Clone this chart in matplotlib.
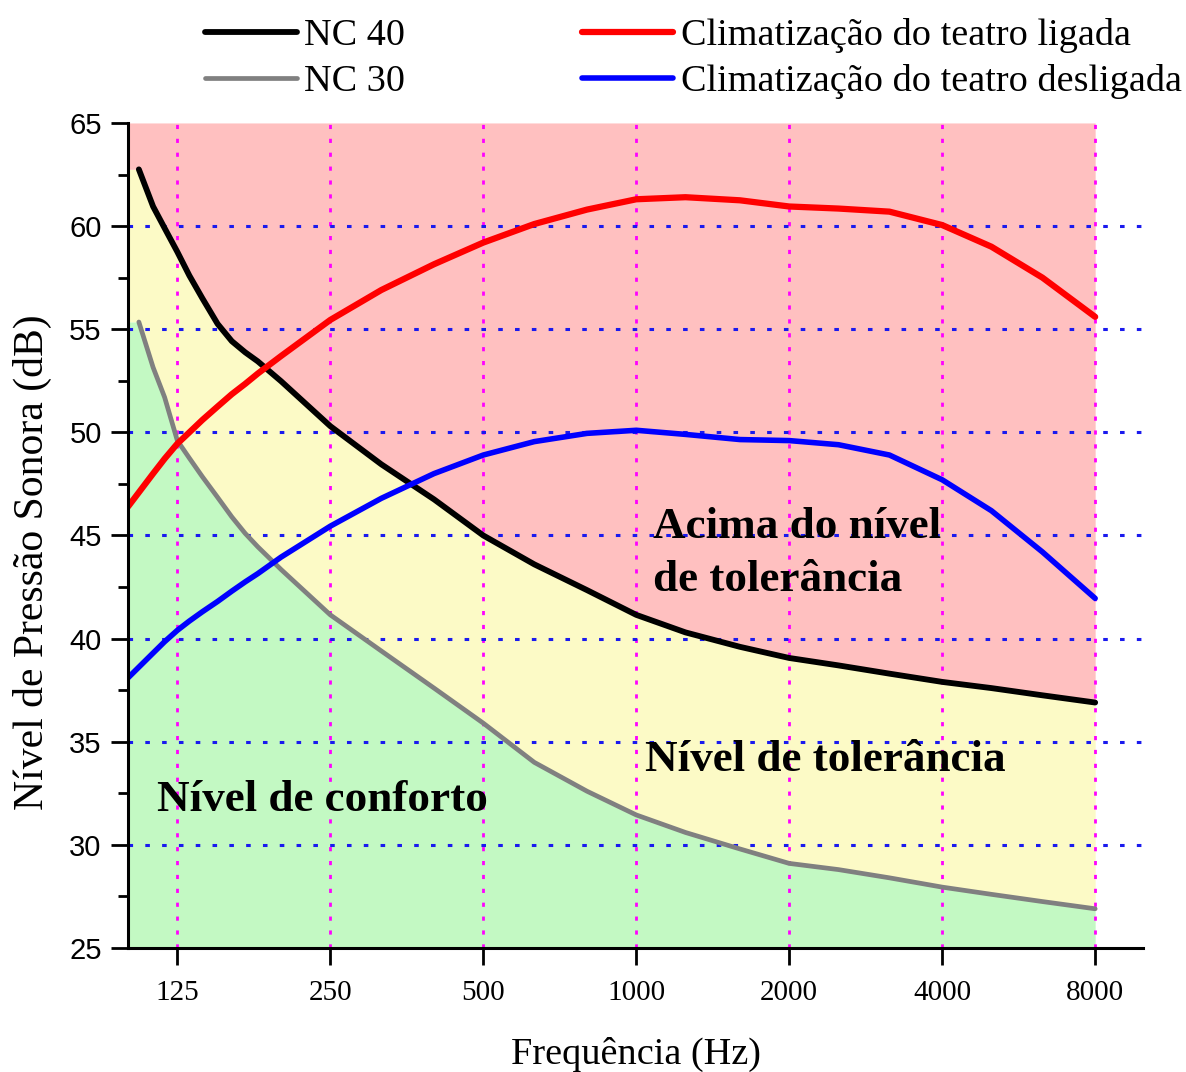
import numpy as np
from matplotlib import pyplot as plt
from matplotlib.ticker import MultipleLocator, NullLocator

# reading points (Hz): denser at the low end where the curves bend most
freqs = [112, 118, 125, 132, 140, 150, 160, 170, 180, 200, 250, 315, 400, 500, 630, 800,
         1000, 1250, 1600, 2000, 2500, 3150, 4000, 5000, 6300, 8000]
nc_start = 105    # NC curves start a bit left of 125 Hz
meas_start = 100  # measured curves start at the left edge

nc40 = [62.75, 60.95, 59.9, 58.75, 57.6, 56.5, 55.26, 54.42, 53.88, 53.44, 52.48, 50.3,
        48.45, 46.75, 45.0, 43.6, 42.35, 41.15, 40.3, 39.6, 39.06, 38.7, 38.3, 37.9,
        37.6, 37.25, 36.9]
nc30 = [55.35, 53.15, 51.7, 49.6, 48.75, 47.85, 46.85, 45.9, 45.1, 44.45, 43.35, 41.15,
        39.4, 37.6, 35.9, 34.0, 32.6, 31.45, 30.6, 29.8, 29.1, 28.8, 28.4, 27.95,
        27.6, 27.25, 26.9]
ligada = [46.4, 48.0, 48.72, 49.45, 50.0, 50.6, 51.25, 51.85, 52.35, 52.85, 53.7, 55.45,
          56.9, 58.15, 59.2, 60.1, 60.8, 61.3, 61.4, 61.25, 60.95, 60.85, 60.7, 60.05,
          59.0, 57.5, 55.6]
desligada = [38.1, 39.3, 39.85, 40.4, 40.85, 41.3, 41.8, 42.3, 42.75, 43.15, 43.95, 45.45,
             46.8, 48.0, 48.9, 49.55, 49.95, 50.1, 49.9, 49.65, 49.6, 49.4, 48.9, 47.7,
             46.2, 44.2, 41.95]

band_ticks = [125, 250, 500, 1000, 2000, 4000, 8000]
y_min, y_max = 25, 65

SERIF = 'Liberation Serif'
SANS = 'Liberation Sans'

x_nc = [nc_start] + freqs
x_meas = [meas_start] + freqs
# fill zones reach the left edge with the first NC value held flat
x_fill = [meas_start] + x_nc
nc40_fill = [nc40[0]] + nc40
nc30_fill = [nc30[0]] + nc30

fig = plt.figure(figsize=(11.86, 10.72), dpi=100)
ax = fig.add_axes([0.108, 0.1157, 0.856, 0.7696])
ax.set_xscale('log')
ax.set_xlim(100, 9950)
ax.set_ylim(y_min, y_max)

ax.fill_between(x_fill, nc40_fill, y_max, color='#ffc0c0', lw=0, zorder=1)
ax.fill_between(x_fill, nc30_fill, nc40_fill, color='#fcfac6', lw=0, zorder=1)
ax.fill_between(x_fill, y_min, nc30_fill, color='#c3f9c3', lw=0, zorder=1)

for f in band_ticks:
    ax.axvline(f, color='#ff00ff', ls=(0, (1.5, 3.5)), lw=2.0, zorder=2)
for v in range(30, 61, 5):
    ax.axhline(v, color='#1a1aee', ls=(0, (1.5, 4)), lw=2.2, zorder=2)

line_kw = dict(zorder=4, solid_capstyle='round', solid_joinstyle='round')
ax.plot(x_nc, nc40, color='black', lw=4.2, label='NC 40', **line_kw)
ax.plot(x_nc, nc30, color='#808080', lw=3.4, label='NC 30', **line_kw)
ax.plot(x_meas, ligada, color='#ff0000', lw=4.5, label='Climatização do teatro ligada', **line_kw)
ax.plot(x_meas, desligada, color='#0000ff', lw=4.0, label='Climatização do teatro desligada', **line_kw)

ax.set_xticks(band_ticks)
ax.set_xticklabels([str(f) for f in band_ticks])
ax.xaxis.set_minor_locator(NullLocator())
ax.yaxis.set_major_locator(MultipleLocator(5))
ax.yaxis.set_minor_locator(MultipleLocator(2.5))
ax.tick_params(axis='both', which='major', length=12, width=2, direction='out')
ax.tick_params(axis='y', which='minor', length=7, width=2, direction='out')
ax.tick_params(axis='x', which='major', pad=11, labelsize=21, labelfontfamily=SERIF)
ax.tick_params(axis='y', which='major', pad=7, labelsize=21, labelfontfamily=SANS)

for side in ['top', 'right']:
    ax.spines[side].set_visible(False)
for side in ['left', 'bottom']:
    ax.spines[side].set_linewidth(2.2)
    ax.spines[side].set_zorder(5)

ax.set_xlabel('Frequência (Hz)', family=SERIF, fontsize=27.5, labelpad=22)
ax.set_ylabel('Nível de Pressão Sonora (dB)', family=SERIF, fontsize=30)
ax.yaxis.set_label_coords(-0.075, 0.468)

ax.text(0.0286, 0.179, 'Nível de conforto', transform=ax.transAxes, family=SERIF,
        fontweight='bold', fontsize=32.5, ha='left', va='center', zorder=6)
ax.text(0.509, 0.228, 'Nível de tolerância', transform=ax.transAxes, family=SERIF,
        fontweight='bold', fontsize=32.5, ha='left', va='center', zorder=6)
ax.text(0.517, 0.478, 'Acima do nível\nde tolerância', transform=ax.transAxes, family=SERIF,
        fontweight='bold', fontsize=32.5, ha='left', va='center', linespacing=1.4, zorder=6)

fig.legend(loc='upper left', bbox_to_anchor=(205 / 1186, 1 - 18 / 1072), ncol=2,
           frameon=False, prop={'family': SERIF, 'size': 27.5}, handlelength=2.4,
           handletextpad=0.2, columnspacing=4.62, labelspacing=0.3, borderpad=0,
           borderaxespad=0)

fig.savefig('out.png', dpi=100)
